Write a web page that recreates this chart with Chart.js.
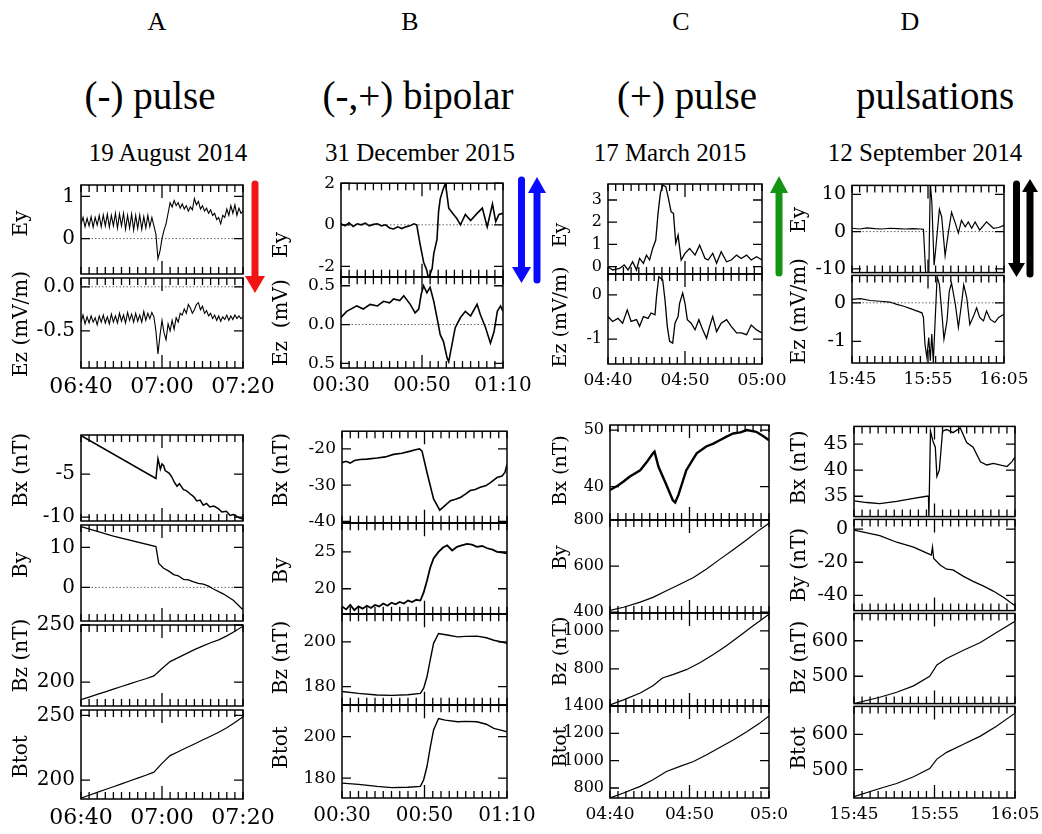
<!DOCTYPE html>
<html>
<head>
<meta charset="utf-8">
<script src="https://cdn.jsdelivr.net/npm/chart.js@4.4.1/dist/chart.umd.min.js"></script>
<style>
  body { margin: 0; background: #fff; width: 1042px; height: 834px; position: relative; overflow: hidden; font-family: "Liberation Serif", "Times New Roman", serif; }
  .t { position: absolute; transform: translate(-50%, -50%); white-space: nowrap; color: #000; line-height: 1; }
  canvas { position: absolute; }
  svg { position: absolute; left: 0; top: 0; }
</style>
</head>
<body>
<div class="t" style="left:157px;top:22px;font-size:26px">A</div>
<div class="t" style="left:410px;top:22px;font-size:26px">B</div>
<div class="t" style="left:681px;top:22px;font-size:26px">C</div>
<div class="t" style="left:910px;top:22px;font-size:26px">D</div>
<div class="t" style="left:150px;top:95px;font-size:39px">(-) pulse</div>
<div class="t" style="left:418px;top:95px;font-size:39px">(-,+) bipolar</div>
<div class="t" style="left:687px;top:95px;font-size:39px">(+) pulse</div>
<div class="t" style="left:935px;top:95px;font-size:39px">pulsations</div>
<div class="t" style="left:168px;top:152px;font-size:25px">19 August 2014</div>
<div class="t" style="left:420px;top:152px;font-size:25px">31 December 2015</div>
<div class="t" style="left:670px;top:152px;font-size:25px">17 March 2015</div>
<div class="t" style="left:925px;top:152px;font-size:25px">12 September 2014</div>

<svg width="1042" height="834">
  <line x1="255" y1="184" x2="255" y2="278" stroke="#f01414" stroke-width="7" stroke-linecap="round"/>
  <polygon points="245,276 265,276 255,293" fill="#f01414"/>
  <line x1="521.5" y1="180" x2="521.5" y2="270" stroke="#0a0aff" stroke-width="7" stroke-linecap="round"/>
  <polygon points="512,267 531,267 521.5,283" fill="#0a0aff"/>
  <line x1="537" y1="191" x2="537" y2="280" stroke="#0a0aff" stroke-width="7" stroke-linecap="round"/>
  <polygon points="528,193 546,193 537,177" fill="#0a0aff"/>
  <line x1="779" y1="190" x2="779" y2="273" stroke="#139413" stroke-width="7" stroke-linecap="round"/>
  <polygon points="770,193 788,193 779,176" fill="#139413"/>
  <line x1="1016.5" y1="184" x2="1016.5" y2="266" stroke="#000" stroke-width="7" stroke-linecap="round"/>
  <polygon points="1008,263 1025,263 1016.5,277" fill="#000"/>
  <line x1="1030" y1="190" x2="1030" y2="274" stroke="#000" stroke-width="7" stroke-linecap="round"/>
  <polygon points="1022,192 1038,192 1030,179" fill="#000"/>
</svg>

<script>
(function(){
  // canvas text: the serif face that the canvas actually resolves here
  const FONT = "'DejaVu Serif', serif";

  // ---- column A: 19 August 2014, 06:40-07:20 (minutes from 06:40) ----
  const aTimeLabels = ['06:40', '07:00', '07:20'];
  // Ey and Ez sampled every 0.5 min
  const aEyV = [0.35,0.50,0.28,0.48,0.30,0.52,0.27,0.50,0.32,0.55,
    0.28,0.56,0.30,0.58,0.27,0.55,0.30,0.60,0.25,0.58,
    0.30,0.60,0.22,0.55,0.25,0.58,0.20,0.55,0.24,0.56,
    0.22,0.52,0.25,0.55,0.28,0.50,0.30,
    0.10,-0.48,-0.30,0.00,0.20,0.35,0.60,0.85,0.75,0.90,
    0.78,0.85,0.72,0.82,0.70,0.78,0.65,0.75,0.68,0.95,
    0.80,0.88,0.70,0.78,0.65,0.72,0.60,0.68,0.55,0.60,
    0.45,0.50,0.35,0.55,0.50,0.70,0.55,0.78,0.60,0.80,
    0.55,0.72,0.60,0.65];
  const aEzV = [-0.40,-0.32,-0.42,-0.34,-0.41,-0.33,-0.40,-0.35,-0.43,-0.33,
    -0.40,-0.32,-0.41,-0.34,-0.42,-0.31,-0.40,-0.33,-0.41,-0.30,
    -0.39,-0.32,-0.41,-0.29,-0.38,-0.31,-0.40,-0.30,-0.39,-0.32,
    -0.40,-0.28,-0.38,-0.30,-0.36,-0.29,-0.34,
    -0.50,-0.76,-0.55,-0.38,-0.52,-0.60,-0.42,-0.50,-0.38,-0.48,
    -0.35,-0.40,-0.30,-0.32,-0.25,-0.30,-0.20,-0.24,-0.30,-0.26,
    -0.20,-0.18,-0.26,-0.22,-0.30,-0.27,-0.33,-0.30,-0.36,-0.32,
    -0.38,-0.33,-0.39,-0.34,-0.37,-0.32,-0.38,-0.33,-0.37,-0.32,
    -0.36,-0.33,-0.36,-0.34];
  const aBxT = [0,18.5,19.0,19.6,20.0,20.4,20.8,21.2,21.8,22.4,23.0,23.7,24.3,25.3,26.0,27.0,27.8,28.6,29.4,30.2,31.0,31.8,32.8,33.9,34.8,35.9,36.8,37.6,38.5,39.2,40];
  const aBxV = [-0.5,-5.5,-3.2,-4.4,-3.8,-4.0,-4.6,-4.7,-4.9,-5.3,-5.9,-6.4,-6.1,-6.8,-6.9,-7.3,-7.6,-8.1,-8.0,-8.6,-8.4,-8.8,-8.7,-9.0,-9.4,-9.3,-9.8,-9.7,-9.9,-10.1,-10.2];
  const aByT = [0,8,18.5,19.2,20.4,21.5,22.9,24.0,25.3,26.5,27.8,29.0,30.2,31.5,32.7,35.1,37.6,39.6,40];
  const aByV = [15.2,12.8,10.2,6.0,4.8,4.2,3.2,2.9,2.0,1.9,1.4,1.0,0.8,0.3,-0.4,-1.6,-3.2,-5.2,-5.5];
  const aBzT = [0,2,4,6,8,10,12,14,16,18,20,22,24,26,28,30,32,34,36,38,40];
  const aBzV = [184.7,187,189.3,191.6,193.9,196.2,198.5,200.8,203,205.5,212,218,221.5,225,228.5,231.5,234.5,237,240.5,244.5,249];
  const aBtT = [0,2,4,6,8,10,12,14,16,18,20,22,24,26,28,30,32,34,36,38,40];
  const aBtV = [186.2,188.4,190.6,192.8,195,197.2,199.4,201.6,203.8,206.2,213,219,222,225,228,231,234,237,240.5,244.5,249];

  // ---- column B: 31 December 2015, 00:30-01:10 ----
  const bTimeLabels = ['00:30', '00:50', '01:10'];
  const bEyT = [0,1,2,3,4,5,6,7,8,9,10,11,12,13,14,15,16,17,18,18.7,19.5,20.4,21.2,21.6,22.5,22.9,23.7,24.1,24.5,25.2,25.8,26.6,27.8,28.6,29.5,30.7,32,33.6,34.9,36.1,37.4,38.2,39,40];
  const bEyV = [0.05,-0.05,0.1,-0.08,0.05,0,0.08,-0.05,0.02,0.05,-0.05,0,-0.15,-0.2,-0.1,-0.18,-0.1,-0.05,0.05,0,-0.9,-1.8,-2.2,-2.6,-2.1,-1.4,-0.7,0.65,1.25,1.7,2.0,0.8,0.5,0.3,0,0.5,0.2,0.55,0.8,-0.1,1.0,0.15,0.5,0.55];
  const bEzT = [0,1.4,3.9,5.5,7.2,9,10.5,12,13,14.5,15.5,17.1,18.3,19.2,19.8,20.4,21.2,22,22.9,23.7,24.5,25.3,26.2,26.6,27.4,28.2,29.5,30.7,32,33.6,34.4,35.7,36.9,37.8,38.6,39.4,40];
  const bEzV = [0.09,0.17,0.24,0.2,0.26,0.24,0.3,0.28,0.33,0.31,0.37,0.26,0.15,0.2,0.39,0.5,0.41,0.48,0.3,0.09,-0.13,-0.22,-0.43,-0.48,-0.26,-0.04,0.09,0.17,0.11,0.26,0.13,-0.04,-0.24,-0.09,0.17,0.24,0.17];
  const bBxT = [0,1,2,3,4.4,6,8.5,10.5,12.5,14.5,16.6,17.8,18.8,19.4,20.6,22.2,23.7,24.6,26.3,27.5,28.7,30,31.1,32.3,33.5,34.8,36,37,37.6,38.8,39.5,40];
  const bBxV = [-23.8,-23.4,-23.9,-23.2,-22.9,-22.8,-22.5,-22.2,-21.5,-21.2,-20.6,-20.2,-20,-20.6,-26.5,-33.8,-36.9,-36,-34.3,-33.9,-33.4,-32.4,-31.5,-31.2,-30.6,-30.2,-29.3,-28.4,-27.9,-27.5,-26.5,-24.3];
  const bByT = [0,1,2,3,4,5,6,7,8,9,10,11,12,13,14,15,16,17,18,19,19.8,20.6,21.4,22.2,23.4,24.5,25.5,26.7,27.9,29,30.3,31.5,32.7,34,35.2,36.5,37.6,39,40];
  const bByV = [17.6,17.2,17.8,17.1,17.6,17.3,17.7,17.4,17.8,17.6,18,17.7,18.1,17.9,18.2,18,18.4,18.2,18.5,18.4,19.5,21.1,22.9,24.1,25,25.6,25.9,25.2,25.7,25.9,26.1,26,25.7,25.8,25.5,25.3,25,24.9,24.8];
  const bBzT = [0,4,8.5,12,16,19,19.8,20.6,21.4,22.2,23.4,25.5,28,30,32.7,35,36.8,38.5,40];
  const bBzV = [177.8,177,176.3,176.1,176.4,177,179.3,184.4,192,199.3,203.7,203,202.2,202.4,202.5,201.8,200.7,200,199.3];
  const bBtT = [0,4,8.5,12,16,19,19.8,20.6,21.4,22.2,23.4,25,28,30,32.7,35,36.8,38.5,40];
  const bBtV = [177.6,177,176,175.4,175.6,176,179.2,185.6,195,203.2,208.8,208,207.2,207.4,207.2,206,204,203.2,202.4];

  // ---- column C: 17 March 2015, 04:40-05:00 ----
  const cTimeLabelsE = ['04:40', '04:50', '05:00'];
  const cTimeLabelsB = ['04:40', '04:50', '05:0'];
  const cEyT = [0,0.6,1.5,2.1,2.6,3.2,3.7,4.1,4.6,5,5.4,5.8,6.2,6.5,6.8,7.1,7.5,7.8,8.2,8.5,8.8,9.1,9.5,10,10.6,11.3,11.9,12.6,13,13.6,14.1,14.7,15.4,16,16.7,17.3,18,18.6,19.3,20];
  const cEyV = [0,-0.15,-0.08,0.08,-0.15,0.22,-0.15,0.37,0.15,0.52,0.3,0.82,1.2,2.4,3.3,3.67,3.6,3.15,2.47,2.4,1.05,1.42,0.3,0.6,0.82,0.52,0.97,0.37,0.3,0.6,0.15,0.67,0.22,0.3,0.52,0.37,0.52,0.3,0.45,0.3];
  const cEzT = [0,0.6,1.3,1.9,2.5,3,3.7,4.1,4.6,5.2,5.6,6.1,6.3,6.6,7.1,7.4,7.7,8,8.4,8.7,9.1,9.3,9.7,10,10.3,10.8,11.3,11.8,12.3,12.8,13.2,13.6,14.1,14.7,15.4,16,16.7,17.3,18,18.6,19.3,20];
  const cEzV = [-0.49,-0.6,-0.53,-0.64,-0.34,-0.6,-0.56,-0.71,-0.49,-0.53,-0.41,-0.45,-0.04,0.41,0.34,-0.11,-0.71,-1.05,-1.09,-0.64,-0.49,-0.19,0.04,-0.19,-0.56,-0.64,-0.79,-0.56,-0.79,-0.98,-0.71,-0.49,-0.83,-0.64,-0.56,-0.71,-0.86,-0.86,-0.9,-0.68,-0.79,-0.86];
  const cBxT = [0,1,1.7,2.5,3.8,4.6,5.4,5.6,6.1,7.1,7.9,8.2,8.6,9.6,10.9,12.1,13,13.8,14.6,15.5,16.4,17.2,18.4,19.2,20];
  const cBxV = [39.4,40.2,40.9,41.8,42.9,44.3,45.9,46.2,43.5,40.3,37.6,37.2,38.5,42.9,45.9,47.1,47.6,48.2,48.8,49.4,49.6,50,49.7,49,48.2];
  const cByT = [0,1.7,3.8,5.4,7.1,8.8,10.5,12.1,13.8,15.5,17.2,18.8,20];
  const cByV = [407,421,443,464,493,521,550,586,629,671,714,757,786];
  const cBzT = [0,1.7,3.8,5.4,6.6,7.9,9.6,11.3,13,14.6,16.3,18,20];
  const cBzV = [611,637,673,712,752,770,796,832,876,920,973,1027,1088];
  const cBtT = [0,1.7,3.8,5.4,7.1,8.8,10.5,12.1,13.8,15.5,17.2,18.8,20];
  const cBtV = [727,764,812,861,921,958,994,1042,1097,1152,1212,1273,1327];

  // ---- column D: 12 September 2014, 15:45-16:05 ----
  const dTimeLabels = ['15:45', '15:55', '16:05'];
  const dEyT = [0,1,2,3,4,5,6,7,8,9,9.4,9.7,10.1,10.3,10.5,10.8,11,11.5,11.8,12.25,12.7,13.1,13.6,14,14.4,14.9,15.3,15.75,16.2,16.8,17.7,18.6,19.3,20];
  const dEyV = [0.9,0.7,1.0,0.8,0.7,0.9,0.8,0.7,0.8,0.7,0.6,-11.5,-11.5,13,8,-9,-5,6,4,-6.5,0,5.2,2.2,-0.4,3,1.3,2.6,0.9,2.6,0.4,2.6,0.9,1.1,1.7];
  const dEzT = [0,1.1,2.4,3.7,5,5.9,6.8,7.7,8.5,9.2,9.4,9.6,9.85,10.1,10.3,10.5,10.7,10.9,11.2,11.5,11.8,12.1,12.5,12.8,13.1,13.6,14,14.4,14.7,15.1,15.5,16,16.4,16.8,17.3,17.7,18.2,18.8,19.3,20];
  const dEzV = [0.09,0.11,0.06,0.04,0.02,-0.04,-0.09,-0.15,-0.21,-0.26,-0.38,-1.07,-1.41,-0.9,-1.5,-0.81,-1.54,-0.64,0.68,0.47,-0.21,-0.94,-0.47,0.3,0.51,-0.04,-0.64,-0.04,0.47,0.13,-0.56,-0.34,-0.13,-0.38,-0.47,-0.21,-0.43,-0.51,-0.38,-0.3];
  const dBxT = [0,1.6,3.2,5.3,7.4,9,9.25,9.3,9.5,9.8,10.1,10.3,10.6,11,11.5,12.3,13.2,14,14.8,15.7,16.5,17.3,18.1,19,19.6,20];
  const dBxV = [34.1,33.8,33.6,34,34.6,35,35,31,47.5,45.6,44.4,38.8,40,47.5,47.8,47.2,48.1,45.3,44.4,41.6,41,41.3,41,40.7,41.6,42.5];
  const dByT = [0,3.2,5.3,7.4,9.2,9.6,9.75,9.9,10.7,11.5,12.3,13.6,14.8,16.1,17.3,18.6,20];
  const dByV = [-0.6,-3.9,-7.9,-10.8,-14.8,-15.7,-10.8,-17.7,-21.6,-24.2,-24.6,-28.5,-31.5,-34.4,-37.4,-41.3,-46.3];
  const dBzT = [0,3.2,5.3,7.4,9.4,10.3,11.5,13.6,15.7,17.7,20];
  const dBzV = [423,441,455,473,500,532,550,573,595,623,655];
  const dBtT = [0,3.2,5.3,7.4,9.4,10.3,11.5,13.6,15.7,17.7,20];
  const dBtV = [424,447,461,480,503,530,549,572,595,623,660];

  // axis ranges and labelled ticks, panel order: Ey, Ez, Bx, By, Bz, Btot
  const aRanges = [[-0.84,1.27],[-0.92,0.1],[-10.44,-0.44],[-8.4,15.6],[179.2,250],[185.5,254.2]];
  const aTicks = [[1,0],[0,-0.5],[-5,-10],[10,0],[250,200],[250,200]];
  const aTickLabels = [['1','0'],['0.0','-0.5'],['-5','-10'],['10','0'],['250','200'],['250','200']];
  const bRanges = [[-2.5,2],[-0.56,0.61],[-40.4,-15.1],[16.6,28.9],[171.9,212.3],[170.4,215.2]];
  const bTicks = [[2,0,-2],[0.5,0,-0.5],[-20,-30,-40],[25,20],[200,180],[200,180]];
  const bTickLabels = [['2','0','-2'],['0.5','0.0','0.5'],['-20','-30','-40'],['25','20'],['200','180'],['200','180']];
  const cRanges = [[-0.33,3.72],[-1.56,0.47],[34.1,50.9],[396,800],[605,1094],[727,1400]];
  const cTicks = [[3,2,1,0],[0,-1],[50,40],[800,600,400],[1000,800],[1400,1200,1000,800]];
  const cTickLabels = [['3','2','1','0'],['0','-1'],['50','40'],['800','600','400'],['1000','800'],['1400','1200','1000','800']];
  const dRanges = [[-11,12.4],[-1.56,0.71],[31.1,48.4],[-49.2,5.9],[423,677],[420,679]];
  const dTicks = [[10,0,-10],[0,-1],[45,40,35],[0,-20,-40],[600,500],[600,500]];
  const dTickLabels = [['10','0','-10'],['0','-1'],['45','40','35'],['0','-20','-40'],['600','500'],['600','500']];

  const aTitles = ['Ey','Ez (mV/m)','Bx (nT)','By','Bz (nT)','Btot'];
  const bTitles = ['Ey','Ez  (mV)','Bx (nT)','By','Bz (nT)','Btot'];
  const cTitles = ['Ey','Ez (mV/m)','Bx (nT)','By','Bz (nT)','Btot'];
  const dTitles = ['Ey','Ez (mV/m)','Bx (nT)','By (nT)','Bz (nT)','Btot'];

  // page geometry of each column (plot boxes in px)
  const COLS = [
    { titleX: 22, span: 40, minor: 2, xFont: 22, yFont: 20, tFont: 20,
      e: { l: 81, r: 243, edges: [183, 276, 368] }, b: { l: 81, r: 243, edges: [433, 523, 623, 708, 799] },
      xLabE: aTimeLabels, xLabB: aTimeLabels, titles: aTitles, dy: [-6, 1, -8, -8, -10, 2],
      ranges: aRanges, ticks: aTicks, labels: aTickLabels, zero: [1, 1, 0, 1, 0, 0],
      series: [[aEyV.map((_, i) => i * 0.5), aEyV], [aEzV.map((_, i) => i * 0.5), aEzV], [aBxT, aBxV], [aByT, aByV], [aBzT, aBzV], [aBtT, aBtV]],
      lw: [1.1, 1.1, 1.5, 1.3, 1.2, 1.2] },
    { titleX: 282, span: 40, minor: 2, xFont: 20, yFont: 17, tFont: 20,
      e: { l: 341, r: 503, edges: [183, 277, 368] }, b: { l: 342, r: 507, edges: [431, 523, 614, 705, 798] },
      xLabE: bTimeLabels, xLabB: bTimeLabels, titles: bTitles, dy: [15, 0, -7, 2, -2, -4],
      ranges: bRanges, ticks: bTicks, labels: bTickLabels, zero: [1, 1, 0, 0, 0, 0],
      series: [[bEyT, bEyV], [bEzT, bEzV], [bBxT, bBxV], [bByT, bByV], [bBzT, bBzV], [bBtT, bBtV]],
      lw: [1.6, 1.6, 1.6, 1.8, 1.4, 1.4] },
    { titleX: 561, span: 20, minor: 1, xFont: 17, yFont: 16, tFont: 19,
      e: { l: 608, r: 762, edges: [184, 274, 364] }, b: { l: 610, r: 769, edges: [425, 520, 613, 706, 798] },
      xLabE: cTimeLabelsE, xLabB: cTimeLabelsB, titles: cTitles, dy: [6, -2, -2, -9, -8, -5],
      ranges: cRanges, ticks: cTicks, labels: cTickLabels, zero: [0, 0, 0, 0, 0, 0],
      series: [[cEyT, cEyV], [cEzT, cEzV], [cBxT, cBxV], [cByT, cByV], [cBzT, cBzV], [cBtT, cBtV]],
      lw: [1.3, 1.3, 2.4, 1.2, 1.2, 1.2] },
    { titleX: 800, span: 20, minor: 1, xFont: 17, yFont: 19, tFont: 20,
      e: { l: 852, r: 1004, edges: [184, 274, 363] }, b: { l: 854, r: 1015, edges: [425, 518, 612, 705, 798] },
      xLabE: dTimeLabels, xLabB: dTimeLabels, titles: dTitles, dy: [-9, -8, -4, 0, -1, -4],
      ranges: dRanges, ticks: dTicks, labels: dTickLabels, zero: [1, 1, 0, 0, 0, 0],
      series: [[dEyT, dEyV], [dEzT, dEzV], [dBxT, dBxV], [dByT, dByV], [dBzT, dBzV], [dBtT, dBtV]],
      lw: [1.2, 1.2, 1.3, 1.3, 1.2, 1.2] }
  ];

  // box frame, inward ticks, dotted zero line, rotated y title
  const framePlugin = {
    id: 'frame',
    beforeDatasetsDraw(chart, args, o) {
      if (!o.zero) return;
      const { ctx, chartArea: a, scales: { y } } = chart;
      const py = y.getPixelForValue(0);
      ctx.save();
      ctx.strokeStyle = '#666';
      ctx.lineWidth = 1;
      ctx.setLineDash([1.5, 2]);
      ctx.beginPath(); ctx.moveTo(a.left, py); ctx.lineTo(a.right, py); ctx.stroke();
      ctx.restore();
    },
    afterDatasetsDraw(chart, args, o) {
      const { ctx, chartArea: a, scales: { x, y } } = chart;
      ctx.save();
      ctx.strokeStyle = '#000';
      ctx.lineWidth = 1.5;
      ctx.strokeRect(a.left, a.top, a.right - a.left, a.bottom - a.top);
      ctx.lineWidth = 1.3;
      ctx.beginPath();
      for (let m = 0; m <= o.span; m += o.minor) {
        const px = x.getPixelForValue(m);
        const len = m === o.span / 2 ? 13 : 7;
        ctx.moveTo(px, a.top); ctx.lineTo(px, a.top + len);
        ctx.moveTo(px, a.bottom); ctx.lineTo(px, a.bottom - len);
      }
      y.ticks.forEach(t => {
        const py = y.getPixelForValue(t.value);
        ctx.moveTo(a.left, py); ctx.lineTo(a.left + 9, py);
        ctx.moveTo(a.right, py); ctx.lineTo(a.right - 9, py);
      });
      ctx.stroke();
      ctx.fillStyle = '#000';
      ctx.font = o.tFont + 'px ' + FONT;
      ctx.textAlign = 'center';
      ctx.textBaseline = 'middle';
      ctx.translate(o.titleX, (a.top + a.bottom) / 2 + o.dy);
      ctx.rotate(-Math.PI / 2);
      ctx.fillText(o.title, 0, 0);
      ctx.restore();
    }
  };

  function makePanel(col, idx, box, top, bottom, isBottom, xLabels) {
    const padT = 16, padR = 42, padB = 16, xH = 46;
    const left = col.titleX - 15;
    const axisW = box.l - left;
    const w = axisW + (box.r - box.l) + padR;
    const h = padT + (bottom - top) + (isBottom ? xH : padB);
    const cv = document.createElement('canvas');
    cv.width = w; cv.height = h;
    cv.style.left = left + 'px';
    cv.style.top = (top - padT) + 'px';
    document.body.appendChild(cv);

    const [T, V] = col.series[idx];
    const range = col.ranges[idx], ticks = col.ticks[idx], labels = col.labels[idx];
    const xTicks = [0, col.span / 2, col.span];

    new Chart(cv, {
      type: 'line',
      data: { datasets: [{
        data: T.map((t, i) => ({ x: t, y: V[i] })),
        borderColor: '#000', borderWidth: col.lw[idx], pointRadius: 0, tension: 0
      }] },
      options: {
        responsive: false, animation: false, devicePixelRatio: 1, events: [],
        layout: { autoPadding: false, padding: { left: 0, top: padT, right: padR, bottom: isBottom ? 0 : padB } },
        plugins: {
          legend: { display: false }, tooltip: { enabled: false },
          frame: { span: col.span, minor: col.minor, zero: col.zero[idx], title: col.titles[idx],
                   titleX: col.titleX - left, dy: col.dy[idx], tFont: col.tFont }
        },
        scales: {
          x: {
            type: 'linear', min: 0, max: col.span, display: isBottom,
            grid: { display: false, drawTicks: false }, border: { display: false },
            ticks: { autoSkip: false, maxRotation: 0, padding: 6, color: '#000',
                     font: { family: FONT, size: col.xFont }, callback: (v, i) => xLabels[i] || '' },
            afterBuildTicks: s => { s.ticks = xTicks.map(v => ({ value: v })); },
            afterFit: s => { s.height = isBottom ? xH : 0; }
          },
          y: {
            min: range[0], max: range[1],
            grid: { display: false, drawTicks: false }, border: { display: false },
            ticks: { autoSkip: false, padding: 6, color: '#000',
                     font: { family: FONT, size: col.yFont }, callback: (v, i) => labels[i] || '' },
            afterBuildTicks: s => { s.ticks = ticks.map(v => ({ value: v })); },
            afterFit: s => { s.width = axisW; }
          }
        }
      },
      plugins: [framePlugin]
    });
  }

  COLS.forEach(col => {
    const ee = col.e.edges, be = col.b.edges;
    makePanel(col, 0, col.e, ee[0], ee[1], false, col.xLabE);
    makePanel(col, 1, col.e, ee[1], ee[2], true, col.xLabE);
    for (let k = 0; k < 4; k++) {
      makePanel(col, 2 + k, col.b, be[k], be[k + 1], k === 3, col.xLabB);
    }
  });
})();
</script>
</body>
</html>
